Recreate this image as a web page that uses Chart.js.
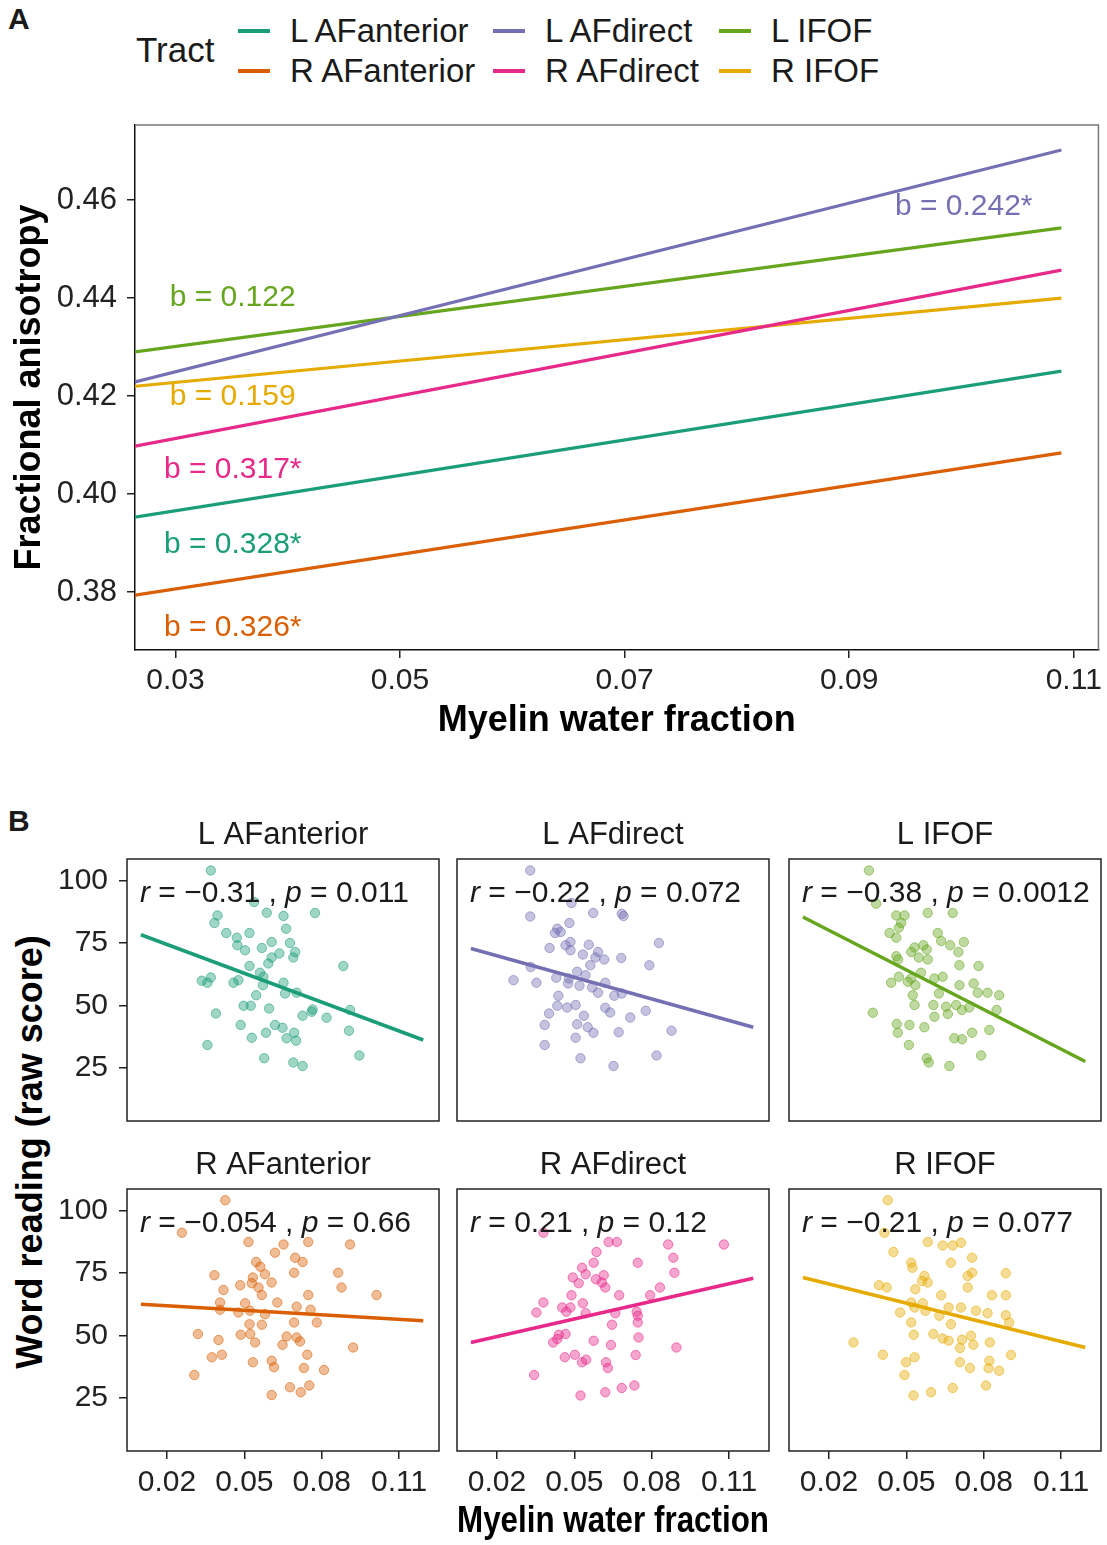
<!DOCTYPE html>
<html><head><meta charset="utf-8">
<script src="https://cdn.jsdelivr.net/npm/chart.js@4.4.1/dist/chart.umd.min.js"></script>
<style>
body{margin:0;background:#fff;width:1107px;height:1545px;position:relative;overflow:hidden;font-family:"Liberation Sans",Arial,sans-serif;color:#1a1a1a;}
.abs{position:absolute;white-space:nowrap;}
canvas{position:absolute;}
</style></head><body>
<div class="abs" style="left:8px;top:2px;font-weight:bold;font-size:30px;">A</div>
<div class="abs" style="left:8px;top:804px;font-weight:bold;font-size:30px;">B</div>
<div id="legend"></div>
<div class="abs" style="left:30px;top:1152px;font-weight:bold;font-size:36px;transform:translate(-50%,-50%) rotate(-90deg);color:#000;">Word reading (raw score)</div>
<canvas id="cA" width="1107" height="760" style="left:0;top:0;"></canvas>
<script>
const FONT = '"Liberation Sans", Arial, sans-serif';
Chart.defaults.font.family = FONT;

// ---------- shared ----------
const tracts = ["L AFanterior", "L AFdirect", "L IFOF", "R AFanterior", "R AFdirect", "R IFOF"];
const tractColors = ["#1B9E77", "#7570B3", "#66A61E", "#D95F02", "#E7298A", "#E6AB02"];

// ---------- panel A ----------
const faXTicks = [0.03, 0.05, 0.07, 0.09, 0.11];
const faYTicks = [0.38, 0.40, 0.42, 0.44, 0.46];
const faLineX = [0.0264, 0.1089];
const faStart = [0.3953, 0.4229, 0.4290, 0.3794, 0.4098, 0.4220];
const faEnd = [0.4251, 0.4702, 0.4543, 0.4084, 0.4457, 0.4400];
const slopeLabels = ["b = 0.328*", "b = 0.242*", "b = 0.122", "b = 0.326*", "b = 0.317*", "b = 0.159"];
const slopeLabelX = [0.0351, 0.1002, 0.0351, 0.0351, 0.0351, 0.0351];
const slopeLabelY = [0.3896, 0.4586, 0.4400, 0.3727, 0.4049, 0.4198];

// ---------- panel B ----------
const mwfTicks = [0.02, 0.05, 0.08, 0.11];
const readTicks = [25, 50, 75, 100];
const fitX = [0.0099, 0.1194];
const fitStart = [78.3, 72.8, 85.4, 62.5, 47.2, 73.2];
const fitEnd = [36.2, 41.3, 27.6, 55.9, 72.9, 45.2];
const rValues = ["\u22120.31", "\u22120.22", "\u22120.38", "\u22120.054", "0.21", "\u22120.21"];
const pValues = ["0.011", "0.072", "0.0012", "0.66", "0.12", "0.077"];

const mwf_LAFanterior = [0.0370,0.0538,0.0587,0.0652,0.0774,0.0396,0.0384,0.0662,0.0430,0.0520,0.0471,0.0606,0.0677,0.0473,0.0568,0.0503,0.0636,0.0697,0.0690,0.0606,0.0593,0.0520,0.0884,0.0561,0.0574,0.0335,0.0357,0.0370,0.0458,0.0477,0.0572,0.0652,0.0658,0.0703,0.0546,0.0497,0.0525,0.0596,0.0765,0.0726,0.0819,0.0910,0.0390,0.0486,0.0619,0.0648,0.0584,0.0529,0.0664,0.0693,0.0701,0.0906,0.0357,0.0577,0.0690,0.0726,0.0946,0.0761];
const read_LAFanterior = [104.0,91.4,87.1,85.8,87.0,86.0,83.0,80.7,79.0,79.0,77.1,75.4,75.0,74.1,73.0,72.1,70.8,71.4,69.2,69.2,66.8,65.8,65.8,63.1,61.5,59.9,59.1,61.2,59.1,60.1,58.1,59.1,54.8,55.1,54.1,49.9,49.9,48.8,48.4,45.9,45.1,48.2,46.8,42.2,42.2,41.1,39.1,37.1,36.9,39.1,35.9,39.9,34.2,28.9,27.2,25.8,30.0,47.5];

const mwf_LAFdirect = [0.0329,0.0489,0.0329,0.0573,0.0684,0.0691,0.0481,0.0434,0.0425,0.0447,0.0485,0.0828,0.0466,0.0556,0.0404,0.0485,0.0592,0.0533,0.0582,0.0616,0.0682,0.0562,0.0791,0.0331,0.0511,0.0543,0.0430,0.0264,0.0353,0.0476,0.0520,0.0620,0.0569,0.0592,0.0655,0.0438,0.0684,0.0434,0.0472,0.0505,0.0620,0.0639,0.0402,0.0537,0.0717,0.0777,0.0385,0.0511,0.0552,0.0574,0.0672,0.0877,0.0505,0.0385,0.0524,0.0652,0.0819,0.0479];
const read_LAFdirect = [104.0,91.0,85.6,87.0,86.7,85.8,83.0,80.7,79.0,79.4,75.4,75.0,74.1,74.3,73.0,72.1,71.4,70.4,69.2,68.4,69.0,66.1,66.1,65.4,63.5,62.1,61.1,60.1,59.1,58.8,57.9,59.1,57.2,55.1,53.9,53.9,54.8,49.9,49.2,50.2,49.1,47.2,46.8,45.9,45.2,47.9,42.2,42.5,41.3,39.1,39.3,39.9,37.1,34.2,28.9,25.8,30.0,60.8];

const mwf_LIFOF = [0.0355,0.0383,0.0583,0.0680,0.0461,0.0493,0.0480,0.0471,0.0435,0.0461,0.0622,0.0635,0.0670,0.0723,0.0566,0.0532,0.0519,0.0579,0.0702,0.0548,0.0583,0.0461,0.0468,0.0706,0.0780,0.0557,0.0471,0.0519,0.0441,0.0506,0.0535,0.0609,0.0641,0.0706,0.0761,0.0626,0.0525,0.0777,0.0815,0.0860,0.0532,0.0605,0.0654,0.0693,0.0716,0.0744,0.0850,0.0370,0.0609,0.0661,0.0463,0.0512,0.0570,0.0467,0.0822,0.0686,0.0716,0.0755,0.0510,0.0579,0.0587,0.0667,0.0790];
const read_LIFOF = [104.0,90.7,87.0,87.0,86.0,86.0,83.0,81.1,79.0,77.1,79.0,75.8,74.1,75.4,74.1,73.2,71.4,72.4,71.4,69.2,68.4,69.7,68.4,66.1,65.8,63.1,61.5,60.8,59.1,59.5,58.1,60.8,61.5,58.1,58.8,54.8,54.1,55.1,55.1,54.1,50.2,50.2,49.5,50.2,48.2,49.2,48.2,47.1,45.5,46.6,42.6,42.2,41.3,39.1,40.2,36.9,36.5,39.1,34.2,28.9,27.2,25.8,30.0];

const mwf_RAFanterior = [0.0426,0.0258,0.0516,0.0652,0.0748,0.0910,0.0619,0.0697,0.0726,0.0546,0.0562,0.0580,0.0693,0.0864,0.0384,0.0533,0.0606,0.0529,0.0484,0.0555,0.0877,0.0419,0.0568,0.0748,0.1013,0.0628,0.0406,0.0503,0.0703,0.0406,0.0477,0.0522,0.0757,0.0580,0.0693,0.0781,0.0520,0.0568,0.0320,0.0486,0.0523,0.0664,0.0703,0.0716,0.0400,0.0542,0.0648,0.0922,0.0374,0.0413,0.0533,0.0606,0.0615,0.0744,0.0731,0.0809,0.0306,0.0677,0.0752,0.0719,0.0606];
const read_RAFanterior = [104.1,91.1,87.4,86.4,87.4,86.4,83.1,81.1,79.4,79.4,77.5,74.5,75.1,75.1,74.1,73.2,71.2,70.9,70.1,69.2,69.2,68.2,66.2,66.2,66.2,63.2,63.2,62.9,61.5,60.3,59.2,59.9,60.3,58.5,55.2,55.2,54.5,54.3,50.6,50.3,50.6,49.6,49.2,47.6,48.2,47.2,46.3,45.2,41.3,42.3,39.3,39.9,37.3,42.3,37.0,36.2,34.2,29.3,30.0,27.3,26.2];

const mwf_RAFdirect = [0.0380,0.0633,0.0665,0.0864,0.1080,0.0586,0.0884,0.0575,0.0746,0.0530,0.0888,0.0544,0.0614,0.0494,0.0584,0.0517,0.0607,0.0620,0.0832,0.0489,0.0674,0.0794,0.0380,0.0533,0.0453,0.0485,0.0353,0.0469,0.0544,0.0659,0.0742,0.0746,0.0746,0.0646,0.0440,0.0466,0.0418,0.0575,0.0749,0.0642,0.0896,0.0463,0.0502,0.0530,0.0546,0.0738,0.0623,0.0630,0.0344,0.0524,0.0620,0.0684,0.0733,0.0434];
const read_RAFdirect = [91.1,87.4,87.4,86.4,86.4,83.4,81.1,79.1,79.1,77.1,75.1,74.5,74.1,73.2,72.5,70.9,71.2,69.2,69.2,66.1,66.1,66.1,63.2,62.9,61.2,61.2,59.2,59.5,58.9,58.9,59.5,57.9,55.2,54.3,50.3,50.6,47.2,47.9,49.2,46.2,45.2,41.3,42.3,39.3,40.3,42.2,39.3,37.0,34.2,26.0,27.3,29.0,30.0,48.6];

const mwf_RIFOF = [0.0428,0.0415,0.0583,0.0641,0.0680,0.0712,0.0450,0.0755,0.0519,0.0673,0.0524,0.0755,0.0886,0.0738,0.0570,0.0561,0.0583,0.0394,0.0424,0.0738,0.0535,0.0635,0.0832,0.0886,0.0519,0.0564,0.0532,0.0574,0.0664,0.0712,0.0770,0.0815,0.0476,0.0628,0.0886,0.0519,0.0673,0.0899,0.0605,0.0529,0.0641,0.0664,0.0716,0.0751,0.0295,0.0824,0.0760,0.0708,0.0409,0.0532,0.0499,0.0906,0.0708,0.0822,0.0747,0.0819,0.0860,0.0493,0.0528,0.0596,0.0680,0.0809];
const read_RIFOF = [104.1,91.1,87.4,86.0,86.0,87.1,83.4,81.1,79.1,79.1,77.1,75.1,74.9,73.8,73.8,71.8,71.2,70.1,69.2,69.2,68.5,66.1,66.1,66.1,63.2,62.9,61.2,59.9,61.2,61.2,59.9,58.9,59.2,57.9,58.1,55.2,54.5,55.2,50.6,50.3,48.8,47.9,48.3,49.9,47.2,47.2,46.3,45.0,42.3,41.3,39.3,42.2,39.3,39.9,37.0,36.9,35.9,34.2,26.0,27.3,29.0,30.0];

const mwfByTract = [mwf_LAFanterior, mwf_LAFdirect, mwf_LIFOF, mwf_RAFanterior, mwf_RAFdirect, mwf_RIFOF];
const readByTract = [read_LAFanterior, read_LAFdirect, read_LIFOF, read_RAFanterior, read_RAFdirect, read_RIFOF];

function hexA(hex, a) {
  const n = parseInt(hex.slice(1), 16);
  return `rgba(${(n >> 16) & 255},${(n >> 8) & 255},${n & 255},${a})`;
}

// ---------- legend (HTML) ----------
(function () {
  const lg = document.getElementById('legend');
  let html = '<div class="abs" style="left:136px;top:29px;font-size:35px;line-height:42px;">Tract</div>';
  const colX = [238, 493, 719];
  const rowY = [31, 71];
  tracts.forEach((t, i) => {
    const r = Math.floor(i / 3), c = i % 3;
    html += `<div class="abs" style="left:${colX[c]}px;top:${rowY[r] - 2}px;width:32px;height:4px;background:${tractColors[i]};"></div>`;
    html += `<div class="abs" style="left:${colX[c] + 52}px;top:${rowY[r] - 20}px;font-size:33px;line-height:40px;">${t}</div>`;
  });
  lg.innerHTML = html;
})();

// ---------- Panel A chart ----------
const slopeLabelPlugin = {
  id: 'slopeLabels',
  afterDatasetsDraw(chart) {
    const ctx = chart.ctx, xs = chart.scales.x, ys = chart.scales.y;
    ctx.save();
    ctx.font = '30px ' + FONT;
    ctx.textAlign = 'center';
    ctx.textBaseline = 'middle';
    slopeLabels.forEach((lab, i) => {
      ctx.fillStyle = tractColors[i];
      ctx.fillText(lab, xs.getPixelForValue(slopeLabelX[i]), ys.getPixelForValue(slopeLabelY[i]));
    });
    // top/right frame
    const a = chart.chartArea;
    ctx.strokeStyle = '#777';
    ctx.lineWidth = 1.5;
    ctx.beginPath();
    ctx.moveTo(a.left, a.top); ctx.lineTo(a.right, a.top); ctx.lineTo(a.right, a.bottom);
    ctx.stroke();
    ctx.restore();
  }
};

new Chart(document.getElementById('cA'), {
  type: 'line',
  data: {
    datasets: tracts.map((t, i) => ({
      label: t,
      data: [{ x: faLineX[0], y: faStart[i] }, { x: faLineX[1], y: faEnd[i] }],
      borderColor: tractColors[i],
      borderWidth: 3.2,
      pointRadius: 0,
      fill: false
    }))
  },
  options: {
    responsive: false, animation: false,
    layout: { padding: { top: 125, right: 7, left: 0, bottom: 0 } },
    plugins: { legend: { display: false }, tooltip: { enabled: false } },
    scales: {
      x: {
        type: 'linear', min: 0.0264, max: 0.1122,
        afterBuildTicks: s => { s.ticks = faXTicks.map(v => ({ value: v })); },
        afterFit: s => { s.height = 110; },
        ticks: { callback: v => v.toFixed(2), font: { size: 30 }, color: '#222', padding: 5, maxRotation: 0 },
        grid: { drawOnChartArea: false, tickLength: 8, color: '#222', lineWidth: 1.5 },
        border: { display: true, color: '#111', width: 1.5 },
        title: { display: true, text: 'Myelin water fraction', font: { size: 36, weight: 'bold' }, color: '#000', padding: { top: 0, bottom: 17 } }
      },
      y: {
        type: 'linear', min: 0.3682, max: 0.4753,
        afterBuildTicks: s => { s.ticks = faYTicks.map(v => ({ value: v })); },
        afterFit: s => { s.width = 135; },
        ticks: { callback: v => v.toFixed(2), font: { size: 31 }, color: '#222', padding: 10 },
        grid: { drawOnChartArea: false, tickLength: 8, color: '#222', lineWidth: 1.5 },
        border: { display: true, color: '#111', width: 1.5 },
        title: { display: true, text: 'Fractional anisotropy', font: { size: 36, weight: 'bold' }, color: '#000', padding: { top: 8, bottom: 0 } }
      }
    }
  },
  plugins: [slopeLabelPlugin]
});

// ---------- Panel B charts ----------
const statPlugin = {
  id: 'statLabel',
  afterDatasetsDraw(chart, args, opts) {
    const ctx = chart.ctx, a = chart.chartArea;
    ctx.save();
    // panel border
    ctx.strokeStyle = '#222';
    ctx.lineWidth = 1.5;
    ctx.strokeRect(a.left, a.top, a.right - a.left, a.bottom - a.top);
    // stat text
    const segs = [
      { t: 'r', it: true }, { t: ' = ' + rValues[opts.idx] + ' , ', it: false },
      { t: 'p', it: true }, { t: ' = ' + pValues[opts.idx], it: false }
    ];
    let x = a.left + 13;
    const y = a.top + 35;
    ctx.textBaseline = 'middle';
    ctx.textAlign = 'left';
    ctx.fillStyle = '#1a1a1a';
    segs.forEach(s => {
      ctx.font = (s.it ? 'italic ' : '') + '30px ' + FONT;
      ctx.fillText(s.t, x, y);
      x += ctx.measureText(s.t).width;
    });
    ctx.restore();
  }
};

const boxLefts = [127, 457, 789];
const boxTops = [859, 1189];
const boxW = 312, boxH = 262, titleH = 44;

tracts.forEach((t, i) => {
  const row = Math.floor(i / 3), col = i % 3;
  const padL = col === 0 ? 127 : 10;
  const padB = row === 1 ? 95 : 8;
  const cv = document.createElement('canvas');
  cv.width = boxW + padL + 8;
  cv.height = titleH + boxH + padB;
  cv.style.left = (boxLefts[col] - padL) + 'px';
  cv.style.top = (boxTops[row] - titleH) + 'px';
  document.body.appendChild(cv);

  const xs = mwfByTract[i], ys = readByTract[i];
  new Chart(cv, {
    data: {
      datasets: [
        {
          type: 'line',
          data: [{ x: fitX[0], y: fitStart[i] }, { x: fitX[1], y: fitEnd[i] }],
          borderColor: tractColors[i], borderWidth: 3.5, pointRadius: 0, fill: false
        },
        {
          type: 'scatter',
          data: xs.map((x, k) => ({ x: x, y: ys[k] })),
          backgroundColor: hexA(tractColors[i], 0.42),
          borderColor: hexA(tractColors[i], 0.55),
          borderWidth: 1,
          pointRadius: 4.7
        }
      ]
    },
    options: {
      responsive: false, animation: false,
      layout: { padding: { left: col === 0 ? 0 : padL, right: 8, top: 0, bottom: row === 1 ? 0 : padB } },
      plugins: {
        legend: { display: false }, tooltip: { enabled: false },
        title: { display: true, fullSize: false, text: t, font: { size: 31, weight: 'normal' }, color: '#1a1a1a', padding: { top: 2, bottom: 4.8 } },
        statLabel: { idx: i }
      },
      scales: {
        x: {
          type: 'linear', min: 0.0045, max: 0.1255, display: row === 1,
          afterBuildTicks: s => { s.ticks = mwfTicks.map(v => ({ value: v })); },
          afterFit: s => { if (s.options.display) s.height = 95; s.paddingLeft = 0; s.paddingRight = 0; },
          ticks: { callback: v => v.toFixed(2), font: { size: 30 }, color: '#222', padding: 6, maxRotation: 0 },
          grid: { drawOnChartArea: false, tickLength: 8, color: '#222', lineWidth: 1.5 },
          border: { display: false },
          title: { display: i === 4, text: 'Myelin water fraction', font: { size: 36, weight: 'bold' }, color: '#000', padding: { top: 0, bottom: 2 } }
        },
        y: {
          type: 'linear', min: 3.8, max: 108.6, display: col === 0,
          afterBuildTicks: s => { s.ticks = readTicks.map(v => ({ value: v })); },
          afterFit: s => { if (s.options.display) s.width = 127; s.paddingTop = 0; s.paddingBottom = 0; },
          ticks: { callback: v => String(v), font: { size: 30 }, color: '#222', padding: 11 },
          grid: { drawOnChartArea: false, tickLength: 8, color: '#222', lineWidth: 1.5 },
          border: { display: false }
        }
      }
    },
    plugins: [statPlugin]
  });
});
</script>
</body></html>
